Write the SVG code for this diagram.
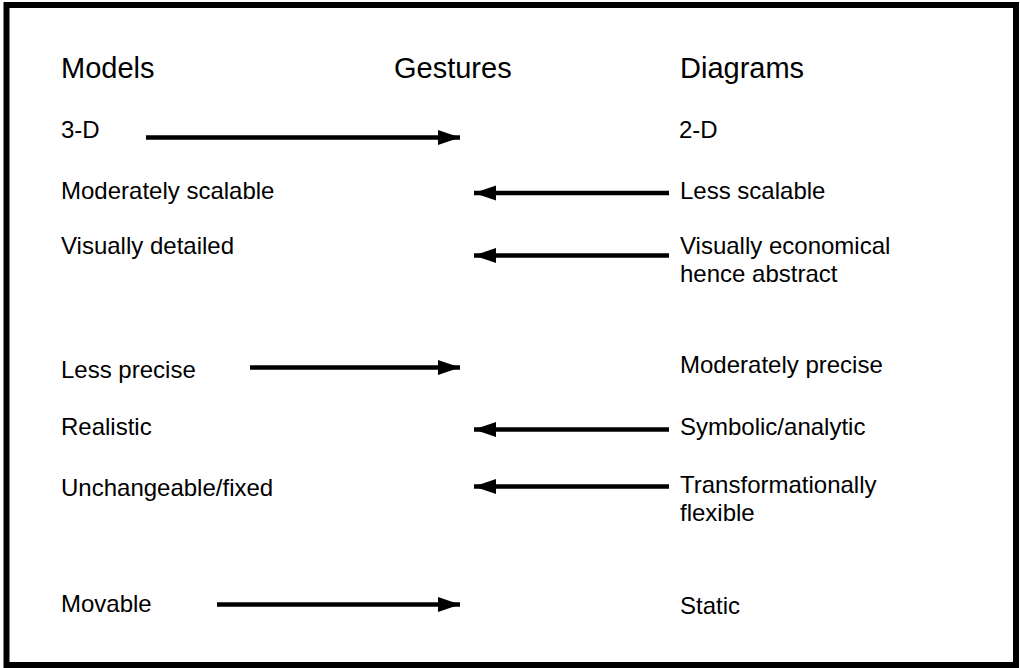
<svg xmlns="http://www.w3.org/2000/svg" width="1020" height="668" viewBox="0 0 1020 668">
<style>
text{font-family:"Liberation Sans",Arial,sans-serif;fill:#000}
.h{font-size:29px}
.t{font-size:24px}
.c{stroke:#000;stroke-width:4.5;fill:none}
</style>
<defs>
<marker id="ah" markerUnits="userSpaceOnUse" markerWidth="24" markerHeight="17" refX="22" refY="7.5" orient="auto">
<path d="M0,0 L22,7.5 L0,15 z" fill="#000"/>
</marker>
</defs>
<rect x="6.5" y="5" width="1009.5" height="660" fill="#fff" stroke="#000" stroke-width="6"/>
<g id="headers">
<text class="h" x="61" y="78">Models</text>
<text class="h" x="394" y="78">Gestures</text>
<text class="h" x="680" y="78">Diagrams</text>
</g>
<g id="models">
<g id="m1"><text class="t" x="61" y="138">3-D</text></g>
<g id="m2"><text class="t" x="61" y="199">Moderately scalable</text></g>
<g id="m3"><text class="t" x="61" y="254">Visually detailed</text></g>
<g id="m4"><text class="t" x="61" y="378">Less precise</text></g>
<g id="m5"><text class="t" x="61" y="435">Realistic</text></g>
<g id="m6"><text class="t" x="61" y="496">Unchangeable/fixed</text></g>
<g id="m7"><text class="t" x="61" y="612">Movable</text></g>
</g>
<g id="diagrams">
<g id="d1"><text class="t" x="679" y="138">2-D</text></g>
<g id="d2"><text class="t" x="680" y="199">Less scalable</text></g>
<g id="d3"><text class="t" x="680" y="254">Visually economical</text><text class="t" x="680" y="282">hence abstract</text></g>
<g id="d4"><text class="t" x="680" y="373">Moderately precise</text></g>
<g id="d5"><text class="t" x="680" y="435">Symbolic/analytic</text></g>
<g id="d6"><text class="t" x="680" y="493">Transformationally</text><text class="t" x="680" y="521">flexible</text></g>
<g id="d7"><text class="t" x="680" y="614">Static</text></g>
</g>
<g id="connectors">
<line class="c" x1="146" y1="137.5" x2="460" y2="137.5" marker-end="url(#ah)"/>
<line class="c" x1="669" y1="193" x2="474" y2="193" marker-end="url(#ah)"/>
<line class="c" x1="669" y1="255.5" x2="474" y2="255.5" marker-end="url(#ah)"/>
<line class="c" x1="250" y1="367.5" x2="460" y2="367.5" marker-end="url(#ah)"/>
<line class="c" x1="669" y1="429.5" x2="474" y2="429.5" marker-end="url(#ah)"/>
<line class="c" x1="669" y1="486.5" x2="474" y2="486.5" marker-end="url(#ah)"/>
<line class="c" x1="217" y1="604.5" x2="460" y2="604.5" marker-end="url(#ah)"/>
</g>
</svg>
